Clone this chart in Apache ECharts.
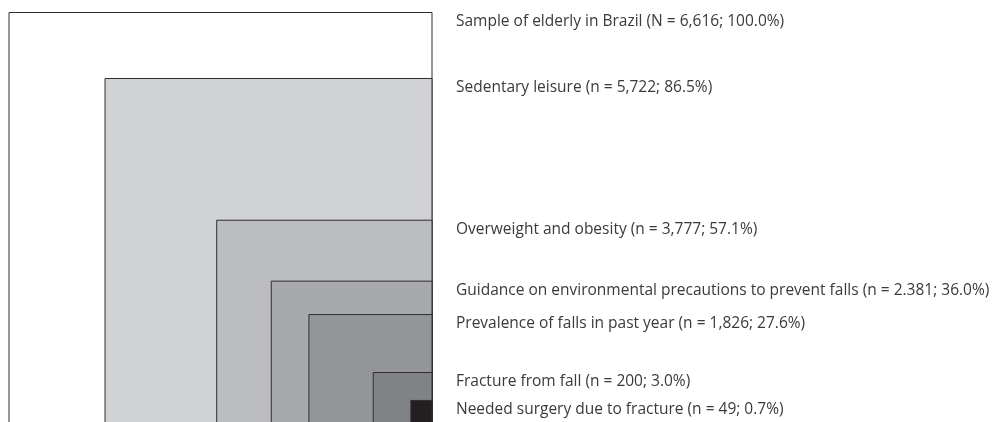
<!DOCTYPE html>
<html>
<head>
<meta charset="utf-8">
<script src="https://cdn.jsdelivr.net/npm/echarts@6/dist/echarts.min.js"></script>
<style>
  html, body { margin: 0; padding: 0; background: #fff; }
  #main { width: 996px; height: 422px; }
</style>
</head>
<body>
<div id="main"></div>
<script>
  // nested groups; size in % of the outer square
  var labels = [
    'Sample of elderly in Brazil (N = 6,616; 100.0%)',
    'Sedentary leisure (n = 5,722; 86.5%)',
    'Overweight and obesity (n = 3,777; 57.1%)',
    'Guidance on environmental precautions to prevent falls (n = 2.381; 36.0%)',
    'Prevalence of falls in past year (n = 1,826; 27.6%)',
    'Fracture from fall (n = 200; 3.0%)',
    'Needed surgery due to fracture (n = 49; 0.7%)'
  ]
  var widths = [100, 77.3, 50.9, 38.0, 29.1, 13.9, 5.0]
  var heights = [100, 84.4, 50.9, 36.5, 28.6, 14.9, 8.3]
  var fills = ['#ffffff', '#d1d2d4', '#bcbdc0', '#a7a9ac', '#939598', '#808285', '#231f20']

  var chart = echarts.init(document.getElementById('main'))
  var data = widths.map(function (w, i) {
    return [100 - w, 100 - heights[i], i]
  })

  // the square runs past the bottom edge, so only ~96.8% of it is on screen
  var option = {
    animation: false,
    grid: { left: 9, top: 12.5, width: 423, height: 409.5 },
    xAxis: { type: 'value', min: 0, max: 100, show: false },
    yAxis: { type: 'value', min: 0, max: 96.8, inverse: true, show: false },
    series: [{
      type: 'custom',
      clip: false,
      data: data,
      renderItem: function (params, api) {
        var i = api.value(2)
        var tl = api.coord([api.value(0), api.value(1)])
        var br = api.coord([100, 100])
        return {
          type: 'group',
          children: [
            {
              type: 'rect',
              shape: { x: tl[0], y: tl[1], width: br[0] - tl[0], height: br[1] - tl[1] },
              style: { fill: fills[i], stroke: '#2e2e2e', lineWidth: 1 }
            },
            {
              type: 'text',
              x: br[0] + 24,
              y: tl[1] + 9,
              style: {
                text: labels[i],
                fill: '#3a3a3a',
                font: '15.5px "Open Sans"',
                verticalAlign: 'middle',
                align: 'left'
              }
            }
          ]
        }
      }
    }]
  }
  chart.setOption(option)
</script>
</body>
</html>
